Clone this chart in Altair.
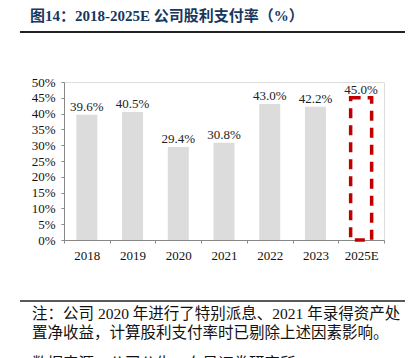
import altair as alt
import pandas as pd

years = ["2018", "2019", "2020", "2021", "2022", "2023", "2025E"]
values = [39.6, 40.5, 29.4, 30.8, 43.0, 42.2, 45.0]
kinds = ["actual", "actual", "actual", "actual", "actual", "actual", "estimate"]
y_ticks = [0, 5, 10, 15, 20, 25, 30, 35, 40, 45, 50]

title_text = "图14：2018-2025E 公司股利支付率（%）"
note_lines = [
    "注：公司 2020 年进行了特别派息、2021 年录得资产处",
    "置净收益，计算股利支付率时已剔除上述因素影响。",
    "数据来源：公司公告，东吴证券研究所",
]
note_y = [232, 251, 282]

df = pd.DataFrame({"year": years, "value": values, "kind": kinds})
df["label"] = [f"{v:.1f}%" for v in values]

FONT = "Liberation Serif, Noto Sans CJK SC"

x_enc = alt.X(
    "year:N",
    sort=years,
    scale=alt.Scale(paddingInner=0, paddingOuter=0),
    axis=alt.Axis(
        title=None, labelAngle=0, labelFont=FONT, labelFontSize=13,
        labelColor="#111", domainColor="#888", tickColor="#888",
        tickBand="extent", tickSize=3, labelPadding=6,
    ),
)
y_enc = alt.Y(
    "value:Q",
    scale=alt.Scale(domain=[0, 50], nice=False),
    axis=alt.Axis(
        title=None, values=y_ticks, labelExpr="datum.value + '%'",
        labelFont=FONT, labelFontSize=13, labelColor="#111",
        domainColor="#888", tickColor="#888", tickSize=3, labelPadding=6,
        grid=False,
    ),
)

base = alt.Chart(df).encode(x=x_enc, y=y_enc)

bars = base.transform_filter("datum.kind == 'actual'").mark_bar(size=21, color="#dcdcdc")
est = base.transform_filter("datum.kind == 'estimate'").mark_bar(
    size=21, fill="transparent", stroke="#c00000", strokeWidth=3.5, strokeDash=[10, 7]
)
labels = base.mark_text(dy=-8, font=FONT, fontSize=13, color="#222").encode(text="label:N")

title = alt.Chart(pd.DataFrame({"t": [title_text]})).mark_text(
    align="left", baseline="middle", font=FONT, fontSize=15, fontWeight="bold", color="#17375e"
).encode(x=alt.value(-34), y=alt.value(-66), text="t:N")

top_line = alt.Chart(pd.DataFrame({"a": [0]})).mark_rule(color="#222", strokeWidth=2).encode(
    x=alt.value(-44), x2=alt.value(345), y=alt.value(-50)
)
bottom_line = alt.Chart(pd.DataFrame({"a": [0]})).mark_rule(color="#222", strokeWidth=1.5).encode(
    x=alt.value(-44), x2=alt.value(345), y=alt.value(219)
)

note_layers = []
for line, yy in zip(note_lines, note_y):
    note_layers.append(
        alt.Chart(pd.DataFrame({"t": [line]})).mark_text(
            align="left", baseline="middle", font=FONT, fontSize=15.5, color="#111"
        ).encode(x=alt.value(-32), y=alt.value(yy), text="t:N")
    )

chart = alt.layer(bars, est, labels, title, top_line, bottom_line, *note_layers).properties(
    width=320, height=158,
    autosize=alt.AutoSizeParams(type="none"),
    padding={"left": 56, "top": 74, "right": 21, "bottom": 118},
).configure_view(stroke=None).configure(background="white")

chart.save("out.html", embed_options={"renderer": "svg", "actions": False})
